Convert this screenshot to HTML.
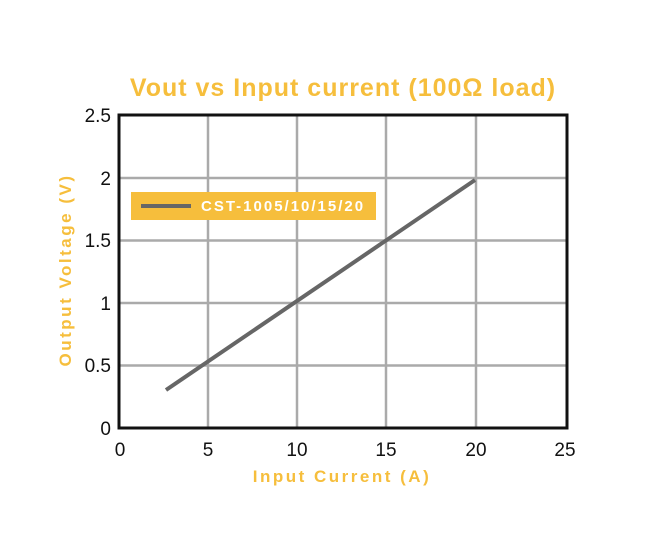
<!DOCTYPE html>
<html><head><style>body{margin:0;background:#fff}</style></head><body>
<svg width="650" height="553" xmlns="http://www.w3.org/2000/svg" font-family="Liberation Sans, sans-serif">
<rect width="650" height="553" fill="#fff"/>
<text x="343" y="96" text-anchor="middle" font-size="25" font-weight="bold" fill="#F6BE3C" letter-spacing="1">Vout vs Input current (100Ω load)</text>
<g stroke="#aaa" stroke-width="2.5">
<line x1="208" y1="115" x2="208" y2="428"/><line x1="297" y1="115" x2="297" y2="428"/>
<line x1="386" y1="115" x2="386" y2="428"/><line x1="476" y1="115" x2="476" y2="428"/>
<line x1="119" y1="178" x2="567" y2="178"/><line x1="119" y1="240.5" x2="567" y2="240.5"/>
<line x1="119" y1="303" x2="567" y2="303"/><line x1="119" y1="365.5" x2="567" y2="365.5"/>
</g>
<rect x="119" y="115" width="448" height="313" fill="none" stroke="#111" stroke-width="3"/>
<line x1="166" y1="390" x2="475" y2="180" stroke="#666" stroke-width="4"/>
<rect x="131" y="192" width="245" height="28" fill="#F6BE3C"/>
<line x1="141" y1="206" x2="191" y2="206" stroke="#666" stroke-width="4"/>
<text x="201" y="211" font-size="15" font-weight="bold" fill="#fff" letter-spacing="2">CST-1005/10/15/20</text>
<g font-size="19" fill="#111" text-anchor="end">
<text x="111" y="122">2.5</text><text x="111" y="185">2</text><text x="111" y="247">1.5</text>
<text x="111" y="310">1</text><text x="111" y="372">0.5</text><text x="111" y="435">0</text>
</g>
<g font-size="19" fill="#111" text-anchor="middle">
<text x="120" y="456">0</text><text x="208" y="456">5</text><text x="297" y="456">10</text>
<text x="386" y="456">15</text><text x="476" y="456">20</text><text x="565" y="456">25</text>
</g>
<text x="342" y="482" text-anchor="middle" font-size="17" font-weight="bold" fill="#F6BE3C" letter-spacing="2.5">Input Current (A)</text>
<text transform="translate(71,270) rotate(-90)" text-anchor="middle" font-size="17" font-weight="bold" fill="#F6BE3C" letter-spacing="2.5">Output Voltage (V)</text>
</svg>
</body></html>
